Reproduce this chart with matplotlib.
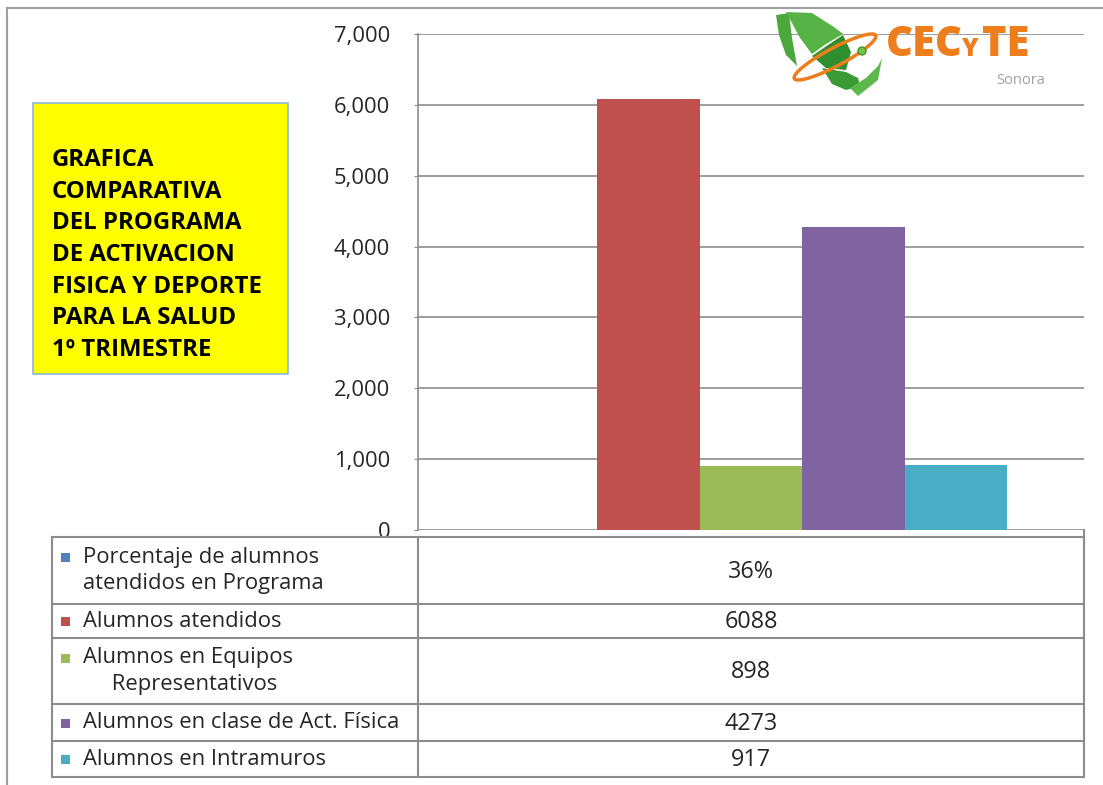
import matplotlib.pyplot as plt
import numpy as np
from matplotlib.patches import Rectangle, Polygon, Ellipse

plt.rcParams['font.family'] = ['Open Sans', 'DejaVu Sans']

# data
series_names = ["Porcentaje de alumnos\natendidos en Programa",
                "Alumnos atendidos",
                "Alumnos en Equipos\n     Representativos",
                "Alumnos en clase de Act. Física",
                "Alumnos en Intramuros"]
series_values = [0.36, 6088, 898, 4273, 917]
series_colors = ["#4f81bd", "#c0504d", "#9bbb59", "#8064a2", "#4bacc6"]
y_ticks = [0, 1000, 2000, 3000, 4000, 5000, 6000, 7000]
title_lines = ["GRAFICA", "COMPARATIVA", "DEL PROGRAMA", "DE ACTIVACION",
               "FISICA Y DEPORTE", "PARA LA SALUD", "1º TRIMESTRE"]

W, H = 1103, 785
GRID = "#8c8c8c"
TXT = "#262626"
FS = 15.8
fig = plt.figure(figsize=(W / 100, H / 100), dpi=100)

# main bar axes
ax = fig.add_axes([418 / W, 1 - 530 / H, (1084 - 418) / W, (530 - 34) / H])
n = len(series_values)
bw = 1 / (n + 1.5)
for i, (v, c) in enumerate(zip(series_values, series_colors)):
    ax.bar((i - (n - 1) / 2) * bw, v, width=bw, color=c, zorder=3)
ax.set_xlim(-0.5, 0.5)
ax.set_ylim(0, 7000)
ax.set_yticks(y_ticks)
ax.set_yticklabels([f"{t:,}" for t in y_ticks], fontsize=FS, color=TXT)
ax.yaxis.grid(True, color=GRID, lw=1.2, zorder=0)
ax.set_xticks([])
for s in ["top", "right", "bottom"]:
    ax.spines[s].set_visible(False)
ax.spines["left"].set_color(GRID)
ax.spines["left"].set_linewidth(1.2)
ax.tick_params(axis="y", length=3, color=GRID, pad=17)

# overlay in pixel coordinates
ov = fig.add_axes([0, 0, 1, 1], zorder=5)
ov.set_xlim(0, W)
ov.set_ylim(H, 0)
ov.axis("off")

# outer frame (only top/left visible)
ov.plot([7, 7], [8, H], color="#a0a0a0", lw=1.5)
ov.plot([7, W], [8, 8], color="#a0a0a0", lw=1.5)

# yellow title box
ov.add_patch(Rectangle((33, 103), 255, 271, facecolor="#ffff00",
                       edgecolor="#8eb4e3", lw=1.2))
for k, line in enumerate(title_lines):
    ov.text(52, 160 + k * 31.7, line, fontsize=17.3, fontweight="bold",
            va="center", ha="left", color="black")

# data table
rows = [537, 604, 638, 704, 741, 777]
left, mid, right = 52, 418, 1084
for y in rows:
    ov.plot([left, right], [y, y], color=GRID, lw=1.5)
for x in [left, mid, right]:
    ov.plot([x, x], [rows[0], rows[-1]], color=GRID, lw=1.5)
ov.plot([right, right], [530, 537], color=GRID, lw=1.5)

for i, (name, v, c) in enumerate(zip(series_names, series_values, series_colors)):
    top, bot = rows[i], rows[i + 1]
    nlines = name.count("\n") + 1
    first_y = (top + bot) / 2 - (nlines - 1) * 13.5
    ov.add_patch(Rectangle((61, first_y - 4), 9, 9, facecolor=c, edgecolor="none"))
    ov.text(83, first_y - 10, name, fontsize=FS, ha="left", va="top",
            linespacing=1.32, color=TXT)
    label = f"{v:.0%}" if v < 1 else f"{v:.0f}"
    ov.text(751, (top + bot) / 2 + 1, label, fontsize=16.8, ha="center",
            va="center", color=TXT)

# CECyTE logo (approximation)
leaves = [
    ([(776, 15), (789, 13), (792, 38), (797, 66), (786, 55), (779, 35)], "#4aa83c"),
    ([(786, 12), (812, 13), (834, 27), (843, 34), (826, 44), (812, 54), (800, 38)], "#58b347"),
    ([(812, 56), (828, 45), (843, 35), (851, 52), (846, 70), (826, 68)], "#2f8f2f"),
    ([(822, 68), (846, 72), (858, 78), (860, 86), (846, 90), (832, 84)], "#3a9b35"),
    ([(850, 88), (866, 78), (878, 66), (882, 58), (878, 80), (858, 96)], "#5cb84a"),
]
for pts, g in leaves:
    ov.add_patch(Polygon(pts, closed=True, facecolor=g, edgecolor="none"))
ov.add_patch(Ellipse((835, 57), 92, 18, angle=-28, facecolor="none",
                     edgecolor="#ee7d1c", lw=2.5))
ov.add_patch(Ellipse((862, 51), 8, 8, facecolor="#7ac143", edgecolor="#3d9a35"))
ov.text(886, 45, "CEC", fontsize=30, fontweight="heavy", color="#ee7d1c",
        ha="left", va="center")
ov.text(962, 49, "Y", fontsize=18, fontweight="heavy", color="#ee7d1c",
        ha="left", va="center")
ov.text(982, 45, "TE", fontsize=30, fontweight="heavy", color="#ee7d1c",
        ha="left", va="center")
ov.text(1045, 80, "Sonora", fontsize=10.5, color="#a0a0a0", ha="right", va="center")

fig.savefig("out.png", dpi=100)
